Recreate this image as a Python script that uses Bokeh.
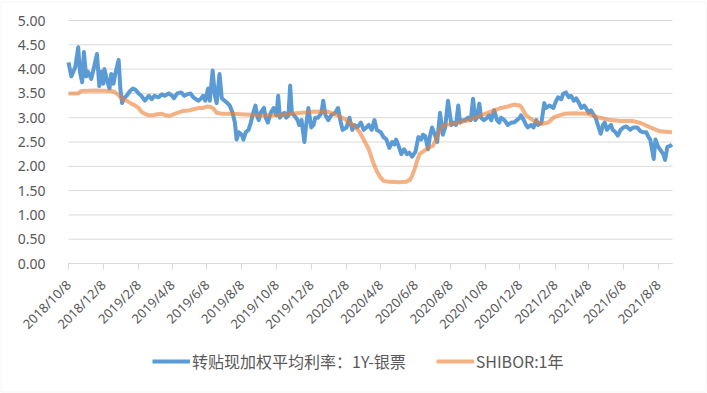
import pandas as pd
from bokeh.plotting import figure
from bokeh.models import Range1d, FixedTicker, NumeralTickFormatter, Legend, LegendItem, BoxAnnotation
from bokeh.embed import file_html
from bokeh.resources import INLINE

# ---------------- data ----------------
blue_name = "转贴现加权平均利率：1Y-银票"
orange_name = "SHIBOR:1年"

blue_dates = [
    "2018-10-08", "2018-10-13", "2018-10-20", "2018-10-25", "2018-10-28", "2018-11-01", "2018-11-04",
    "2018-11-08", "2018-11-11", "2018-11-17", "2018-11-22", "2018-11-27", "2018-12-01", "2018-12-04",
    "2018-12-08", "2018-12-10", "2018-12-15", "2018-12-19", "2018-12-22", "2018-12-26", "2018-12-29",
    "2019-01-04", "2019-01-07", "2019-01-10", "2019-01-13", "2019-01-18", "2019-01-24", "2019-01-29",
    "2019-02-02", "2019-02-08", "2019-02-13", "2019-02-19", "2019-02-26", "2019-03-03", "2019-03-08",
    "2019-03-15", "2019-03-21", "2019-03-26", "2019-04-02", "2019-04-08", "2019-04-11", "2019-04-17",
    "2019-04-24", "2019-04-29", "2019-05-04", "2019-05-10", "2019-05-15", "2019-05-20", "2019-05-24",
    "2019-05-29", "2019-06-01", "2019-06-05", "2019-06-10", "2019-06-13", "2019-06-18", "2019-06-22",
    "2019-06-25", "2019-06-30", "2019-07-04", "2019-07-09", "2019-07-14", "2019-07-18", "2019-07-23",
    "2019-07-27", "2019-07-30", "2019-08-03", "2019-08-08", "2019-08-11", "2019-08-15", "2019-08-20",
    "2019-08-24", "2019-08-27", "2019-09-01", "2019-09-05", "2019-09-07", "2019-09-10", "2019-09-16",
    "2019-09-19", "2019-09-23", "2019-09-28", "2019-10-03", "2019-10-08", "2019-10-11", "2019-10-14",
    "2019-10-17", "2019-10-22", "2019-10-25", "2019-10-29", "2019-11-01", "2019-11-04", "2019-11-08",
    "2019-11-14", "2019-11-17", "2019-11-21", "2019-11-26", "2019-11-29", "2019-12-03", "2019-12-08",
    "2019-12-12", "2019-12-15", "2019-12-20", "2019-12-26", "2019-12-29", "2020-01-02", "2020-01-07",
    "2020-01-12", "2020-01-19", "2020-01-24", "2020-01-28", "2020-02-01", "2020-02-08", "2020-02-13",
    "2020-02-18", "2020-02-22", "2020-02-27", "2020-03-04", "2020-03-09", "2020-03-14", "2020-03-18",
    "2020-03-23", "2020-03-28", "2020-04-01", "2020-04-08", "2020-04-13", "2020-04-18", "2020-04-23",
    "2020-04-28", "2020-05-02", "2020-05-05", "2020-05-10", "2020-05-14", "2020-05-19", "2020-05-24",
    "2020-05-28", "2020-06-02", "2020-06-08", "2020-06-13", "2020-06-18", "2020-06-21", "2020-06-25",
    "2020-06-30", "2020-07-03", "2020-07-07", "2020-07-12", "2020-07-16", "2020-07-21", "2020-07-26",
    "2020-07-30", "2020-08-04", "2020-08-10", "2020-08-13", "2020-08-18", "2020-08-22", "2020-08-25",
    "2020-08-29", "2020-09-03", "2020-09-08", "2020-09-13", "2020-09-17", "2020-09-21", "2020-09-24",
    "2020-09-28", "2020-10-01", "2020-10-06", "2020-10-12", "2020-10-15", "2020-10-19", "2020-10-24",
    "2020-10-29", "2020-11-02", "2020-11-05", "2020-11-11", "2020-11-17", "2020-11-23", "2020-11-28",
    "2020-12-03", "2020-12-08", "2020-12-10", "2020-12-15", "2020-12-19", "2020-12-22", "2020-12-28",
    "2021-01-01", "2021-01-06", "2021-01-09", "2021-01-15", "2021-01-20", "2021-01-23", "2021-01-29",
    "2021-02-05", "2021-02-08", "2021-02-13", "2021-02-19", "2021-02-22", "2021-02-27", "2021-03-04",
    "2021-03-08", "2021-03-13", "2021-03-17", "2021-03-22", "2021-03-26", "2021-03-31", "2021-04-03",
    "2021-04-08", "2021-04-12", "2021-04-17", "2021-04-20", "2021-04-24", "2021-04-29", "2021-05-03",
    "2021-05-06", "2021-05-10", "2021-05-13", "2021-05-17", "2021-05-20", "2021-05-25", "2021-05-29",
    "2021-06-03", "2021-06-08", "2021-06-13", "2021-06-20", "2021-06-25", "2021-07-02", "2021-07-08",
    "2021-07-13", "2021-07-18", "2021-07-22", "2021-07-25", "2021-07-31", "2021-08-03", "2021-08-08",
    "2021-08-11", "2021-08-17", "2021-08-20", "2021-08-24", "2021-08-29", "2021-09-01",
]
blue_values = [
    4.14, 3.85, 4.05, 4.45, 3.95, 3.73, 4.35,
    3.85, 3.95, 3.80, 4.05, 4.31, 3.65, 3.95,
    3.70, 4.00, 3.75, 3.60, 3.90, 3.70, 3.90,
    4.19, 3.60, 3.30, 3.40, 3.45, 3.55, 3.60,
    3.58, 3.50, 3.45, 3.35, 3.45, 3.38, 3.45,
    3.42, 3.48, 3.45, 3.50, 3.45, 3.40, 3.50,
    3.52, 3.45, 3.48, 3.50, 3.42, 3.38, 3.35,
    3.40, 3.45, 3.35, 3.60, 3.35, 3.97, 3.45,
    3.30, 3.90, 3.40, 3.35, 3.30, 3.25, 3.10,
    2.90, 2.55, 2.70, 2.65, 2.55, 2.70, 2.75,
    2.90, 3.05, 3.25, 3.00, 2.95, 3.10, 3.20,
    3.00, 2.90, 3.10, 3.20, 3.05, 3.45, 3.00,
    3.05, 3.10, 3.00, 3.05, 3.66, 3.10, 3.05,
    2.95, 2.85, 2.95, 2.50, 2.85, 3.20, 2.80,
    2.85, 3.00, 3.00, 3.10, 3.35, 3.05, 2.95,
    3.05, 3.10, 3.20, 2.95, 2.75, 2.80, 3.00,
    2.75, 2.85, 2.80, 2.90, 2.75, 2.80, 2.85,
    2.75, 2.95, 2.75, 2.70, 2.60, 2.55, 2.38,
    2.50, 2.45, 2.55, 2.40, 2.25, 2.35, 2.25,
    2.28, 2.20, 2.30, 2.60, 2.55, 2.65, 2.62,
    2.35, 2.60, 2.80, 2.65, 2.50, 3.10, 2.65,
    2.80, 3.35, 2.85, 2.90, 2.85, 3.25, 2.90,
    2.95, 2.95, 3.00, 2.95, 3.39, 2.95, 3.00,
    3.29, 3.00, 2.95, 3.00, 3.05, 2.95, 3.15,
    2.95, 2.90, 3.00, 2.95, 2.85, 2.90, 2.90,
    2.95, 3.00, 3.05, 2.95, 2.85, 2.80, 2.85,
    2.80, 2.95, 2.85, 2.90, 3.30, 3.20, 3.25,
    3.20, 3.30, 3.42, 3.38, 3.49, 3.52, 3.42,
    3.45, 3.35, 3.40, 3.30, 3.20, 3.25, 3.20,
    3.10, 3.15, 3.05, 3.00, 2.85, 2.67, 2.85,
    2.90, 2.75, 2.80, 2.85, 2.75, 2.70, 2.63,
    2.75, 2.80, 2.82, 2.75, 2.80, 2.80, 2.72,
    2.70, 2.70, 2.60, 2.55, 2.15, 2.55, 2.40,
    2.35, 2.25, 2.13, 2.40, 2.42, 2.45,
]

orange_dates = [
    "2018-10-08", "2018-10-25", "2018-10-30", "2018-11-25", "2018-12-22", "2018-12-28", "2019-01-04",
    "2019-01-11", "2019-01-18", "2019-01-26", "2019-02-02", "2019-02-08", "2019-02-13", "2019-02-19",
    "2019-02-26", "2019-03-06", "2019-03-13", "2019-03-21", "2019-03-28", "2019-04-03", "2019-04-10",
    "2019-04-17", "2019-04-27", "2019-05-08", "2019-05-17", "2019-05-25", "2019-06-01", "2019-06-08",
    "2019-06-15", "2019-06-20", "2019-06-25", "2019-07-04", "2019-07-18", "2019-08-06", "2019-08-24",
    "2019-09-10", "2019-09-28", "2019-10-17", "2019-11-03", "2019-11-21", "2019-12-08", "2019-12-26",
    "2020-01-07", "2020-01-17", "2020-01-28", "2020-02-05", "2020-02-13", "2020-02-22", "2020-03-01",
    "2020-03-09", "2020-03-18", "2020-03-25", "2020-04-01", "2020-04-08", "2020-04-13", "2020-04-23",
    "2020-05-10", "2020-05-22", "2020-05-29", "2020-06-02", "2020-06-08", "2020-06-11", "2020-06-15",
    "2020-06-21", "2020-06-28", "2020-07-09", "2020-07-14", "2020-07-18", "2020-07-26", "2020-08-15",
    "2020-09-08", "2020-10-01", "2020-10-24", "2020-11-05", "2020-11-17", "2020-11-28", "2020-12-08",
    "2020-12-10", "2020-12-19", "2021-01-01", "2021-01-15", "2021-01-27", "2021-02-06", "2021-02-24",
    "2021-03-13", "2021-04-06", "2021-04-24", "2021-05-12", "2021-06-03", "2021-06-25", "2021-07-08",
    "2021-07-25", "2021-08-11", "2021-09-01",
]
orange_values = [
    3.50, 3.50, 3.55, 3.56, 3.55, 3.53, 3.46,
    3.38, 3.35, 3.29, 3.25, 3.20, 3.12, 3.08,
    3.05, 3.05, 3.07, 3.08, 3.05, 3.04, 3.07,
    3.10, 3.14, 3.15, 3.18, 3.20, 3.20, 3.23,
    3.22, 3.18, 3.10, 3.08, 3.08, 3.07, 3.06,
    3.05, 3.05, 3.06, 3.08, 3.10, 3.12, 3.13,
    3.12, 3.08, 3.02, 2.97, 2.90, 2.82, 2.72,
    2.55, 2.35, 2.10, 1.90, 1.76, 1.70, 1.68,
    1.67, 1.68, 1.72, 1.80, 2.00, 2.12, 2.25,
    2.30, 2.36, 2.43, 2.55, 2.67, 2.84, 2.88,
    2.94, 3.05, 3.15, 3.20, 3.23, 3.27, 3.25,
    3.23, 3.05, 2.94, 2.87, 2.90, 3.01, 3.08,
    3.09, 3.08, 3.01, 2.96, 2.93, 2.93, 2.89,
    2.80, 2.72, 2.70,
]

tick_labels = [
    "2018/10/8", "2018/12/8", "2019/2/8", "2019/4/8", "2019/6/8", "2019/8/8",
    "2019/10/8", "2019/12/8", "2020/2/8", "2020/4/8", "2020/6/8", "2020/8/8",
    "2020/10/8", "2020/12/8", "2021/2/8", "2021/4/8", "2021/6/8", "2021/8/8",
]
y_ticks = [0.0, 0.5, 1.0, 1.5, 2.0, 2.5, 3.0, 3.5, 4.0, 4.5, 5.0]
x_start, x_end = "2018-10-08", "2021-09-02"

# ---------------- layout (pixels) ----------------
W, H = 707, 393
TOP, RIGHT = 20, 35
PLOT_LEFT = 68               # where the data area starts
PX_PER_UNIT = 48.6           # vertical pixels per 1.00 on the y axis
plot_w = W - RIGHT - PLOT_LEFT

# The frame covers the whole figure, so that the pinned axes' labels and
# the legend are drawn inside it; the data area is a sub-rectangle.
ms0 = pd.Timestamp(x_start).value / 1e6
ms1 = pd.Timestamp(x_end).value / 1e6
ms_per_px = (ms1 - ms0) / plot_w
x_lo = ms0 - PLOT_LEFT * ms_per_px
x_hi = ms1 + RIGHT * ms_per_px
y_top = 5 + TOP / PX_PER_UNIT
y_bottom = 5 - (H - TOP) / PX_PER_UNIT

# ---------------- figure ----------------
bd = pd.to_datetime(blue_dates)
od = pd.to_datetime(orange_dates)
tick_ts = pd.to_datetime(tick_labels, format="%Y/%m/%d")
tick_ms = [int(t.value // 10**6) for t in tick_ts]

p = figure(
    width=W, height=H, x_axis_type="datetime",
    output_backend="svg", toolbar_location=None,
    x_range=Range1d(x_lo, x_hi),
    y_range=Range1d(y_bottom, y_top),
    min_border=0,
)
p.outline_line_color = None
p.background_fill_color = "white"
p.border_fill_color = "white"
p.xgrid.grid_line_color = None
p.ygrid.grid_line_color = None

GRID = "#D9D9D9"
# light chart-area border
p.add_layout(BoxAnnotation(left=0.5, right=705.5, top=1.5, bottom=391.5,
                           left_units="screen", right_units="screen",
                           top_units="screen", bottom_units="screen",
                           fill_alpha=0, line_color=GRID, line_width=1))

# horizontal gridlines limited to the data area
p.segment(x0=[ms0] * len(y_ticks), y0=y_ticks, x1=[ms1] * len(y_ticks), y1=y_ticks,
          line_color=GRID, line_width=1)

BLUE = "#5B9BD5"
ORANGE = "#ED7D31"
r1 = p.line(bd, blue_values, line_color=BLUE, line_width=4, line_join="round")
r2 = p.line(od, orange_values, line_color=ORANGE, line_alpha=0.6, line_width=4, line_join="round")

# y axis, pinned at the first date
p.yaxis.fixed_location = ms0
p.yaxis.bounds = (0, 5)
p.yaxis.ticker = FixedTicker(ticks=y_ticks)
p.yaxis.formatter = NumeralTickFormatter(format="0.00")
p.yaxis.axis_line_color = None
p.yaxis.major_tick_line_color = None
p.yaxis.minor_tick_line_color = None
p.yaxis.major_label_standoff = 17
p.yaxis.major_label_text_font = "Noto Sans"
p.yaxis.major_label_text_font_size = "14px"
p.yaxis.major_label_text_color = "#595959"

# x axis, pinned at y = 0
p.xaxis.fixed_location = 0
p.xaxis.bounds = (ms0, ms1)
p.xaxis.ticker = FixedTicker(ticks=tick_ms)
p.xaxis.major_label_overrides = {ms: lab for ms, lab in zip(tick_ms, tick_labels)}
p.xaxis.axis_line_color = GRID
p.xaxis.major_tick_line_color = GRID
p.xaxis.major_tick_in = 0
p.xaxis.major_tick_out = 6
p.xaxis.minor_tick_line_color = None
p.xaxis.major_label_orientation = 0.7854
p.xaxis.major_label_standoff = 13
p.xaxis.major_label_text_font = "Noto Sans"
p.xaxis.major_label_text_font_size = "13px"
p.xaxis.major_label_text_color = "#595959"

legend = Legend(
    items=[LegendItem(label=blue_name, renderers=[r1]), LegendItem(label=orange_name, renderers=[r2])],
    orientation="horizontal", location=(152, 20),
    padding=0, margin=0, spacing=30, glyph_width=38, glyph_height=20, label_standoff=2,
    border_line_color=None, background_fill_alpha=0,
    label_text_font="Noto Sans CJK SC", label_text_font_size="16px", label_text_color="#595959",
)
p.add_layout(legend, "center")

open("out.html", "w").write(file_html(p, INLINE))
